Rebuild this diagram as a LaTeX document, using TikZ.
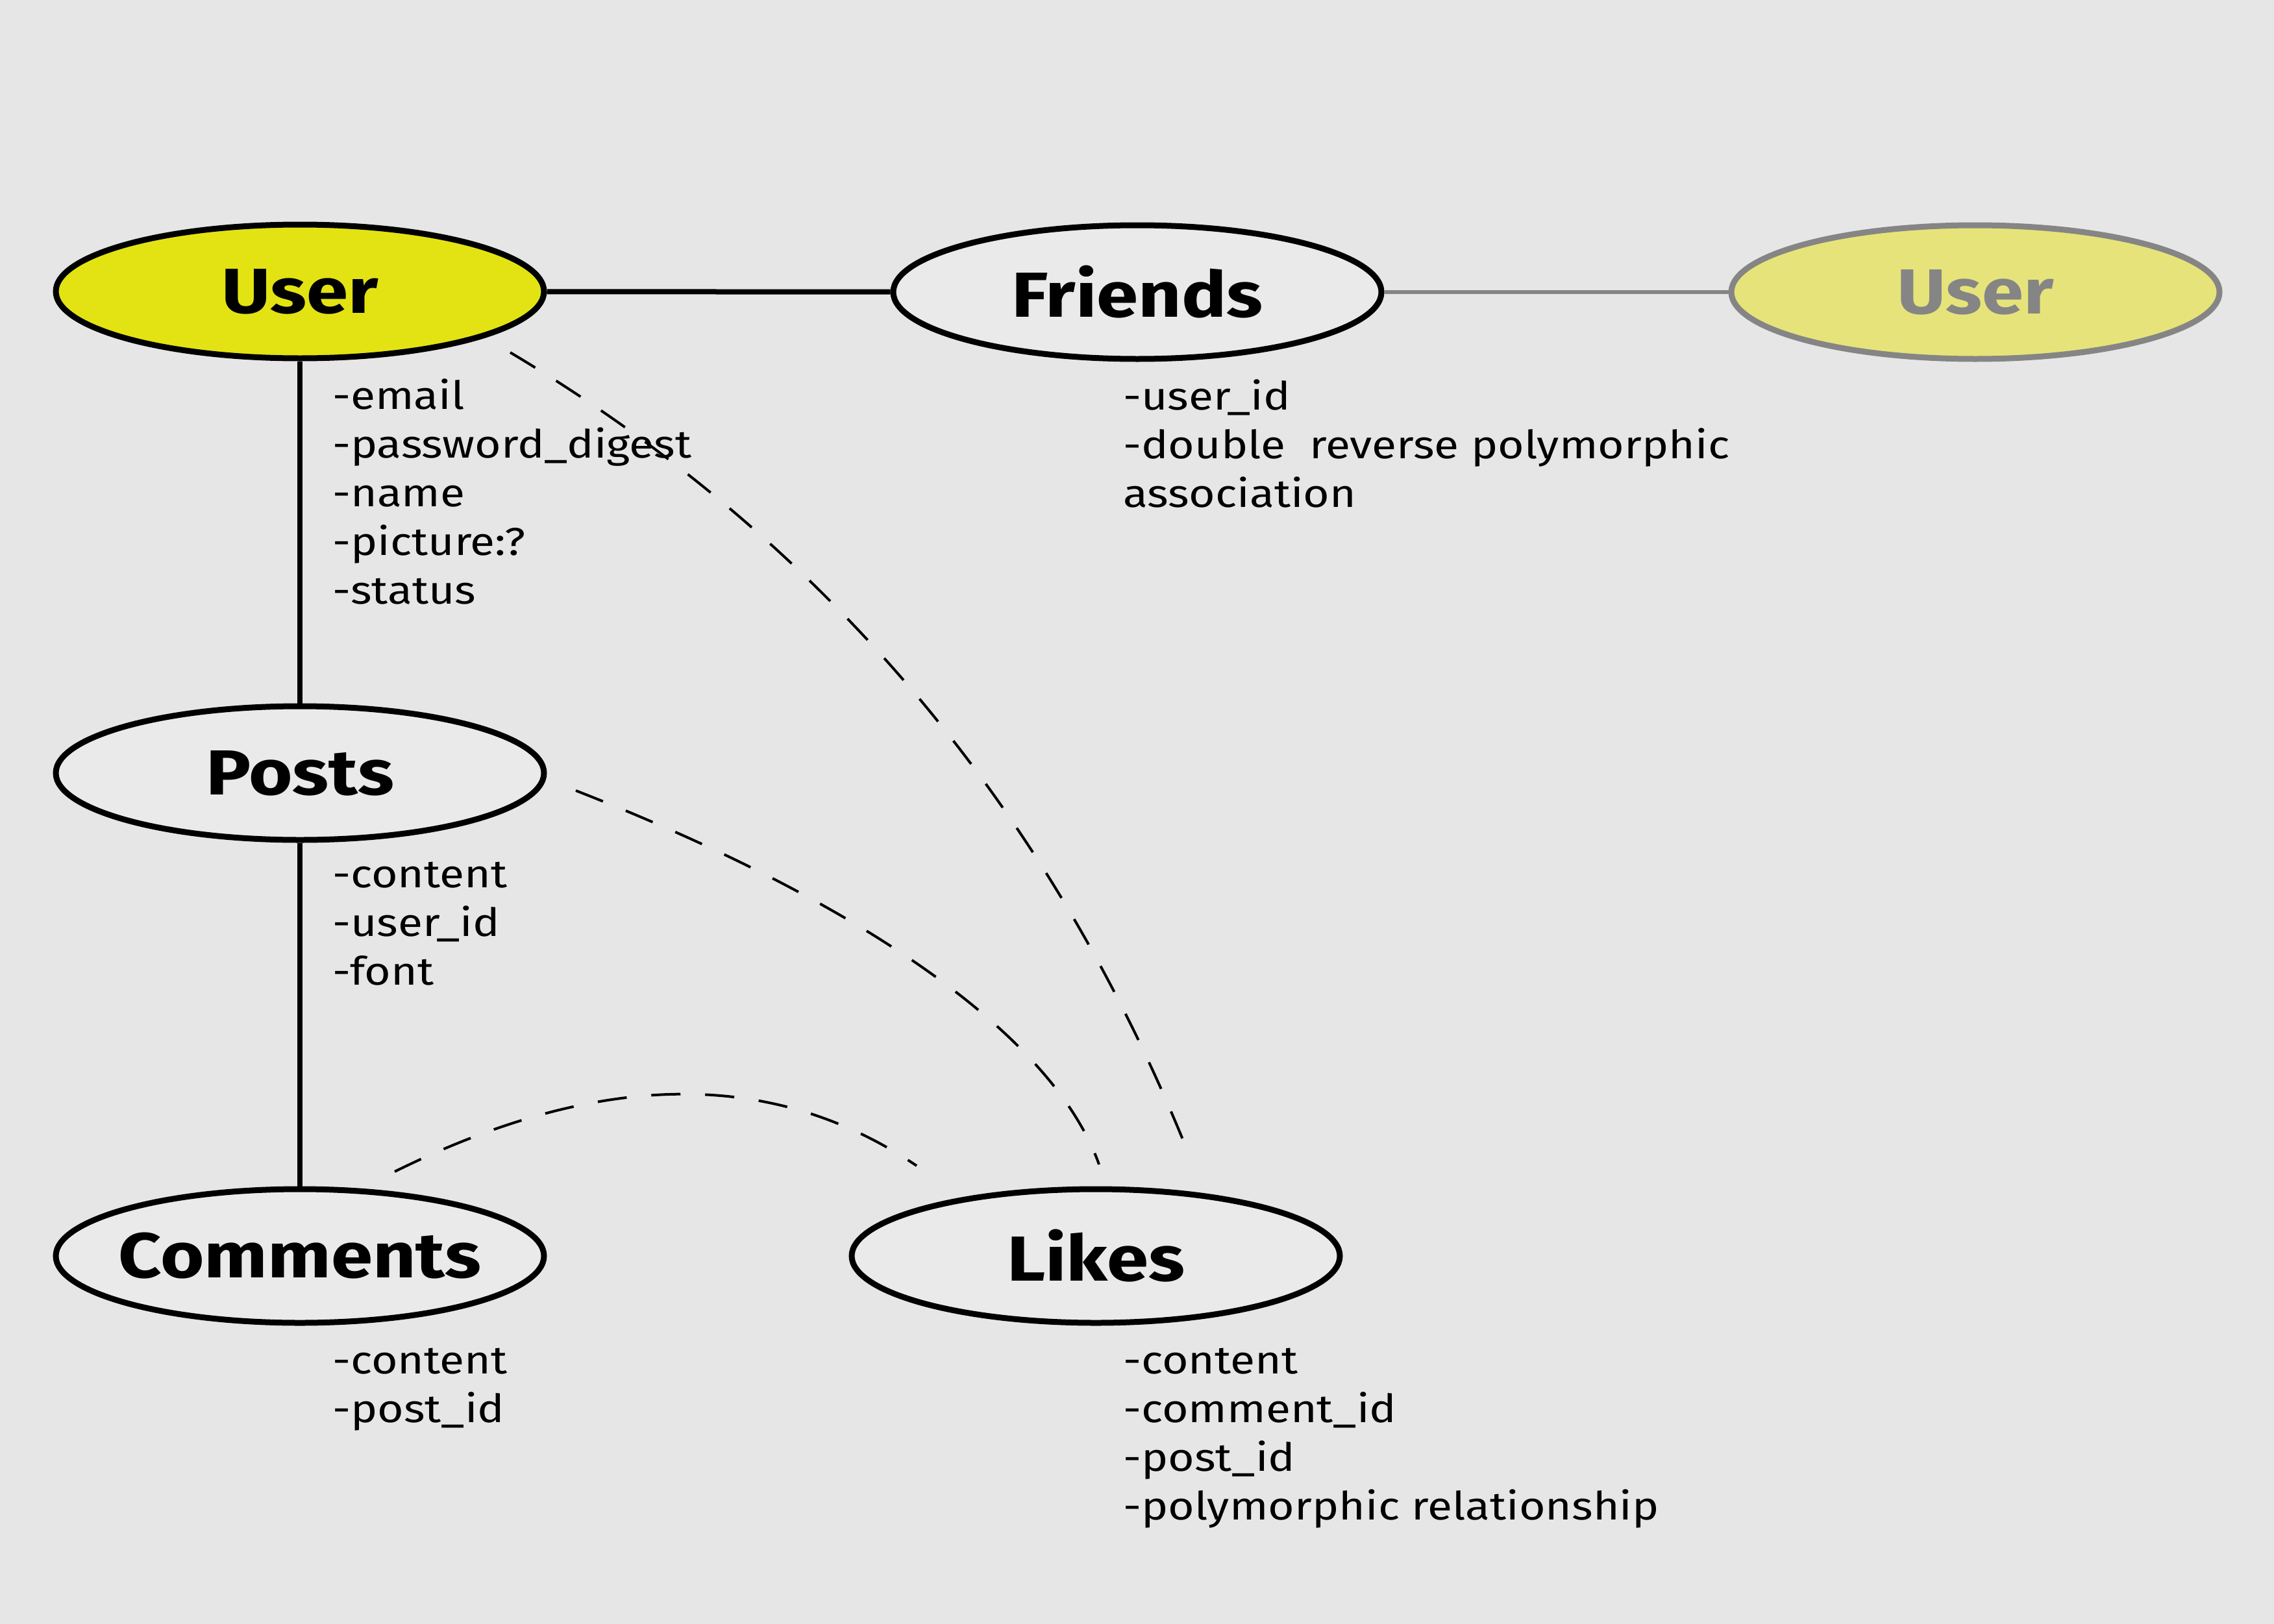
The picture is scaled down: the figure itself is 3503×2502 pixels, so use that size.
\documentclass[tikz,border=0pt]{standalone}
\usepackage{fontspec}
\setmainfont{Fira Sans}
\newfontfamily\titlefamily{Fira Sans}[FakeStretch=1.18]
\newfontfamily\attrfamily{Fira Sans}[FakeStretch=1.16]
\usetikzlibrary{shapes.geometric}
\definecolor{bg}{HTML}{E6E6E6}
\definecolor{uyel}{HTML}{E3E313}
\definecolor{uyelb}{HTML}{E6E37A}
\definecolor{gline}{HTML}{858585}
\definecolor{efill}{HTML}{EAEAEA}
\newcommand\titlefnt{\titlefamily\fontsize{98}{110}\selectfont\bfseries}
\newcommand\attrfnt{\attrfamily\fontsize{60}{75}\selectfont}
\newcommand\ttl[1]{\makebox[0pt]{#1}}
\begin{document}
\begin{tikzpicture}[x=1pt,y=-1pt,
  ent/.style={ellipse, draw=black, line width=9pt, fill=efill,
    minimum width=752pt, minimum height=206pt, inner sep=0pt, font=\titlefnt},
  attr/.style={anchor=base west, align=left, inner sep=0pt, font=\attrfnt},
  conn/.style={line width=8pt, black},
  rel/.style={line width=4pt, dash pattern=on 45pt off 38pt}]
\fill[bg] (0,0) rectangle (3503,2502);
\useasboundingbox (0,0) rectangle (3503,2502);
% entities
\node[ent, fill=uyel] (user) at (462,449) {\ttl{User}};
\node[ent] (friends) at (1752,450) {\ttl{Friends}};
\node[ent, fill=uyelb, draw=gline, text=gline] (user2) at (3043,450) {\ttl{User}};
\node[ent] (posts) at (462,1191) {\ttl{Posts}};
\node[ent] (comments) at (462,1935) {\ttl{Comments}};
\node[ent] (likes) at (1688,1935) {\ttl{Likes}};
% solid connectors
\draw[conn] (user) -- (friends);
\draw[line width=6pt, gline] (friends) -- (user2);
\draw[conn] (user) -- (posts);
\draw[conn] (posts) -- (comments);
% attributes (anchored at the baseline of the last line)
\node[attr] (uattr) at (512,930) {-email\\-password\_digest\\-name\\-picture:?\\-status};
\node[attr] (fattr) at (1730,781) {-user\_id\\-double~ reverse polymorphic\\association};
\node[attr] (pattr) at (512,1517) {-content\\-user\_id\\-font};
\node[attr] (cattr) at (512,2191) {-content\\-post\_id};
\node[attr] (lattr) at (1730,2341) {-content\\-comment\_id\\-post\_id\\-polymorphic relationship};
% dashed relations
\coordinate (r1s) at (786,543);
\coordinate (r1e) at (1832,1780);
\coordinate (r2s) at (887,1218);
\coordinate (r2e) at (1693,1794);
\coordinate (r3s) at (608,1805);
\coordinate (r3e) at (1412,1796);
\draw[rel] (r1s) .. controls (1269,831) and (1617,1244) .. (r1e);
\draw[rel] (r2s) .. controls (1340,1395) and (1624,1600) .. (r2e);
\draw[rel] (r3s) .. controls (916,1653) and (1184,1642) .. (r3e);
\end{tikzpicture}
\end{document}
